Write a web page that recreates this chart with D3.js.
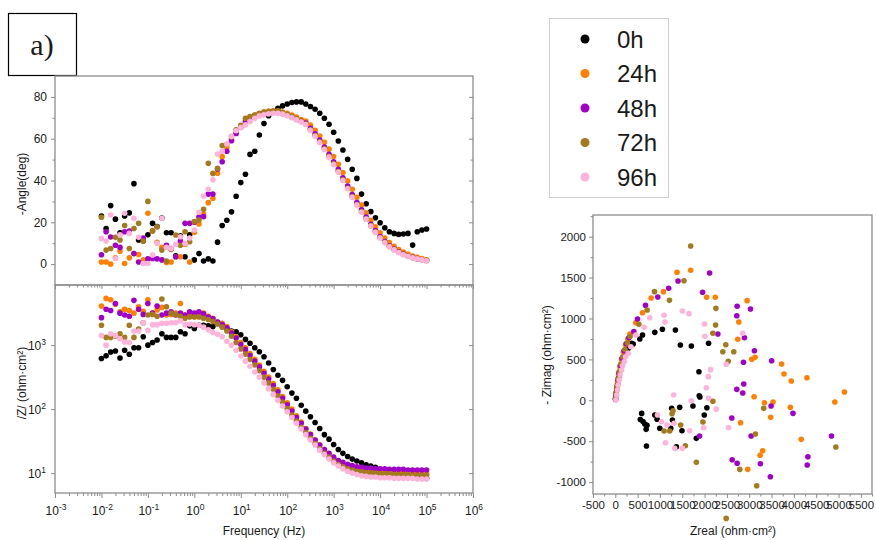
<!DOCTYPE html>
<html>
<head>
<meta charset="utf-8">
<script src="https://cdn.jsdelivr.net/npm/d3@7"></script>
<style>
  body { margin: 0; background: #fff; }
  svg { display: block; }
  text { font-family: Arial, "Liberation Sans", sans-serif; fill: #1a1a1a; }
</style>
</head>
<body>
<svg id="chart" width="876" height="540"></svg>
<script>
const seriesNames = ["0h", "24h", "48h", "72h", "96h"];
const seriesColors = ["#000000", "#ff7f00", "#a000c8", "#a47a1e", "#ffb3da"];

// frequency grid (Hz)
const freq = [
  0.01, 0.0126, 0.0158, 0.02, 0.0251, 0.0316, 0.0398, 0.0501, 0.0631, 0.0794,
  0.1, 0.126, 0.158, 0.2, 0.251, 0.316, 0.398, 0.501, 0.631, 0.794,
  1, 1.26, 1.58, 2, 2.51, 3.16, 3.98, 5.01, 6.31, 7.94,
  10, 12.6, 15.8, 20, 25.1, 31.6, 39.8, 50.1, 63.1, 79.4,
  100, 126, 158, 200, 251, 316, 398, 501, 631, 794,
  1000, 1260, 1580, 2000, 2510, 3160, 3980, 5010, 6310, 7940,
  10000, 12600, 15800, 20000, 25100, 31600, 39800, 50100, 63100, 79400,
  100000
];

// -phase angle (deg)
const phase0h = [
  23, 17, 28, 21.5, 15, 23, 24.5, 38.5, 11.5, 11,
  14, 19.5, 18, 22, 15, 15, 4, 13.5, 3.5, 14,
  2, 5, 1.5, 2.5, 1.5, 10.5, 18.5, 21, 25, 32.5,
  39, 43, 52.5, 54, 61.8, 67.3, 71, 73, 74.5, 75.7,
  76.6, 77.3, 77.6, 77.6, 76.6, 75.4, 74.1, 72.2, 69.8, 66.9,
  63.1, 58.9, 54.6, 50.1, 45.4, 41, 33.5, 28.9, 25.1, 22.2,
  19.8, 17.4, 15.5, 14.7, 14.2, 14.4, 14.7, 9.1, 15.5, 16.3,
  16.8
];
const phase24h = [
  1, 1, 0, 3, 6.2, 0.3, 3, 5, 4.6, 2,
  24.3, 16, 10.4, 8, 0.8, 1, 3.5, 3.5, 9.5, 1,
  15.2, 19.2, 24, 29.4, 31.5, 43.5, 51.4, 55.8, 59.7, 62.6,
  65.8, 68.5, 70.3, 71.3, 72.2, 72.8, 73.2, 73.3, 73.2, 72.8,
  72.2, 71.3, 70.3, 69.2, 68.5, 66.5, 64, 61.3, 58.3, 55,
  51.5, 47.8, 43.8, 39.8, 35.8, 32, 28.2, 24.5, 21, 17.8,
  15, 12.5, 10.3, 8.5, 7, 5.8, 4.8, 3.9, 3.2, 2.6,
  2.1
];
const phase48h = [
  4.5, 15.5, 13, 9, 8, 15.5, 15.8, 5, 1, 12.5,
  2.5, 2.7, 2.5, 2, 9, 7.5, 3.5, 11, 19.5, 19.5,
  20, 22.5, 22.7, 33.5, 33.5, 45.5, 49, 54, 59, 62.5,
  65.5, 68, 69.8, 71, 71.8, 72.4, 72.7, 72.8, 72.6, 72,
  71.2, 70.3, 69.3, 68.3, 67.5, 65, 62.3, 59.3, 56, 52.5,
  49, 45.3, 41.3, 37.3, 33.3, 29.5, 26, 22.5, 19, 16,
  13.2, 10.8, 8.8, 7.2, 5.9, 4.8, 3.9, 3.2, 2.6, 2.1,
  1.7
];
const phase72h = [
  22.4, 6.7, 7.5, 12.8, 11.5, 18.5, 7.5, 17, 19.5, 11,
  30, 15.8, 17.9, 6.7, 1.4, 7, 13.9, 9, 15.5, 10.7,
  20.3, 21.1, 26.2, 48.2, 43.4, 45.8, 56.7, 57.3, 61, 64.2,
  66.4, 69.8, 70.6, 71.3, 72, 72.7, 73, 73.2, 73.2, 72.5,
  71.7, 70.6, 69.5, 68.4, 67, 64.3, 61.5, 58.5, 55.2, 51.6,
  48, 44.3, 40.3, 36.3, 32.3, 28.5, 25, 21.6, 18.4, 15.4,
  12.7, 10.4, 8.5, 7, 5.7, 4.7, 3.8, 3.1, 2.5, 2.1,
  1.7
];
const phase96h = [
  12.3, 11, 23.5, 2.7, 14, 24.3, 14.7, 21.9, 12.8, 0.3,
  0.3, 4.3, 10, 21.9, 8, 7.5, 9.5, 13.1, 9.9, 12.5,
  16.3, 24.8, 32.6, 35.8, 40.3, 52.7, 54, 57.5, 61, 63.8,
  65.3, 66.6, 68.2, 69.8, 70.9, 71.4, 71.9, 72.2, 72.2, 71.8,
  71, 70, 69, 68, 66.8, 64, 61.2, 58.2, 54.8, 51.2,
  47.6, 44, 40, 36, 32, 28.3, 24.8, 21.5, 18.2, 15.2,
  12.5, 10.2, 8.3, 6.8, 5.5, 4.5, 3.7, 3, 2.5, 2,
  1.6
];

// |Z| (ohm·cm2)
const modZ0h = [
  620, 680, 780, 810, 630, 830, 720, 910, 910, 1350,
  1000, 1100, 1200, 1510, 1320, 1320, 1320, 1620, 1510, 2000,
  1820, 2040, 2040, 2000, 1950, 2190, 2000, 1820, 1660, 1620,
  1450, 1230, 1070, 910, 790, 660, 525, 417, 339, 282,
  224, 178, 148, 115, 93, 76, 62, 50, 40, 34,
  28, 23.4, 20.4, 18.2, 16.6, 15.5, 14.5, 13.5, 12.9, 12.3,
  11.5, 11.0, 10.5, 10.0, 9.5, 9.3, 9.1, 8.9, 8.7, 8.5,
  8.3
];
const modZ24h = [
  4070, 5370, 5130, 4370, 3310, 3630, 3470, 3160, 3980, 3390,
  5130, 3160, 3550, 3890, 2950, 3020, 3160, 4470, 2950, 3020,
  2950, 3160, 3160, 2820, 2630, 2290, 2190, 1950, 1620, 1350,
  1100, 910, 740, 600, 490, 389, 316, 251, 200, 158,
  126, 100, 79, 63, 50, 41, 33, 27.5, 22.9, 19.5,
  17.0, 15.1, 13.8, 12.9, 12.0, 11.5, 11.2, 11.0, 10.7, 10.7,
  10.5, 10.5, 10.2, 10.2, 10.2, 10.0, 10.0, 10.0, 10.0, 9.8,
  9.8
];
const modZ48h = [
  2690, 3630, 3470, 4470, 3160, 2950, 2820, 5010, 3630, 3020,
  4470, 3160, 4070, 2950, 3160, 3310, 2950, 3160, 2950, 3310,
  3160, 3310, 3090, 2750, 2570, 2290, 2090, 1860, 1550, 1290,
  1020, 850, 690, 562, 457, 363, 295, 234, 186, 148,
  117, 93, 74, 60, 49, 40, 33, 27.5, 23.4, 20.4,
  17.8, 15.8, 14.8, 13.8, 13.2, 12.6, 12.3, 12.0, 12.0, 11.7,
  11.7, 11.7, 11.5, 11.5, 11.5, 11.5, 11.2, 11.2, 11.2, 11.2,
  11.2
];
const modZ72h = [
  2040, 1320, 1320, 1380, 1510, 1320, 2040, 1320, 1780, 2240,
  2950, 3020, 2820, 5250, 3980, 3160, 3020, 2820, 2630, 2750,
  2750, 2750, 2630, 2510, 2340, 2140, 1910, 1660, 1380, 1100,
  870, 724, 600, 490, 398, 316, 257, 204, 162, 129,
  102, 81, 65, 52, 43, 35, 29, 24, 20.4, 17.8,
  15.5, 13.8, 12.6, 11.7, 11.2, 10.7, 10.5, 10.2, 10.0, 10.0,
  9.8, 9.8, 9.8, 9.5, 9.5, 9.5, 9.5, 9.3, 9.3, 9.3,
  9.3
];
const modZ96h = [
  1410, 1000, 1510, 1410, 1260, 1120, 1100, 1660, 1660, 2240,
  1700, 2090, 2090, 2190, 2200, 2240, 2250, 2400, 2090, 2140,
  2090, 2040, 1910, 1740, 1580, 1480, 1350, 1150, 1000, 830,
  676, 562, 468, 380, 316, 257, 209, 170, 138, 112,
  91, 74, 60, 49, 40, 33, 27.5, 22.9, 19.5, 16.6,
  14.5, 12.9, 11.7, 10.7, 10.0, 9.5, 9.1, 8.9, 8.7, 8.7,
  8.5, 8.5, 8.5, 8.3, 8.3, 8.3, 8.3, 8.3, 8.1, 8.1,
  8.1
];

// Nyquist points [Zreal, -Zimag] (ohm·cm2)
const nyq0h = [
  [5, 10], [15, 60], [30, 125], [52, 200], [80, 290], [120, 390], [170, 480], [230, 560],
  [300, 640], [363, 697], [400, 688], [549, 749], [609, 798], [884, 831], [1055, 868],
  [1346, 859], [1457, 676], [1703, 664], [2089, 697], [1873, 350], [1880, 56], [1895, 40],
  [2051, -90], [1993, -180], [1739, -70], [1442, -86], [1262, -98], [1279, -241], [935, -232],
  [884, -180], [590, -160], [560, -235], [620, -260], [660, -290], [710, -305], [690, -355],
  [996, -342], [1241, -342], [1493, -372], [1815, -465], [1368, -567], [698, -559]
];
const nyq24h = [
  [5, 20], [15, 80], [30, 150], [50, 230], [75, 320], [105, 410], [140, 500], [180, 590],
  [230, 680], [280, 750], [326, 811], [460, 949], [609, 1071], [802, 1251], [1078, 1328],
  [1382, 1565], [1688, 1589], [2045, 1259], [2239, 1259], [2952, 1218], [2766, 957],
  [2743, 746], [3056, 501], [3131, 526], [3725, 444], [3779, 322], [3942, 236], [4293, 276],
  [5132, 101], [4917, -21], [3109, 44], [3339, -29], [3533, -21], [3480, -208], [3920, -86],
  [2804, -274], [4165, -477], [2967, -844], [3243, -672], [3301, -616]
];
const nyq48h = [
  [5, 22], [16, 88], [33, 165], [56, 250], [82, 335], [112, 425], [152, 515], [197, 605],
  [245, 690], [305, 765], [415, 839], [497, 994], [676, 1161], [951, 1263], [1196, 1369],
  [1405, 1458], [2112, 1556], [1955, 1320], [2729, 1149], [3027, 1116], [2721, 1034],
  [2297, 811], [2893, 765], [3116, 606], [2871, 465], [3502, 484], [2877, 199], [2721, 134],
  [2855, 89], [3489, -70], [3980, -159], [2609, -216], [3042, -436], [4842, -436],
  [1888, -436], [2618, -726], [2729, -770], [3250, -775], [4314, -689], [4299, -791], [3473, -934]
];
const nyq72h = [
  [4, 15], [18, 92], [36, 172], [60, 262], [90, 352], [126, 442], [166, 532], [216, 622],
  [270, 700], [330, 780], [527, 929], [713, 1104], [877, 1328], [1212, 1222], [1538, 1462],
  [1688, 1886], [2253, 1124], [2246, 921], [2185, 819], [2475, 680], [2408, 594], [2654, 594],
  [2529, 477], [2185, -12], [1963, -265], [3324, -98], [3138, -412], [4940, -571], [2788, -844],
  [3167, -1044], [2484, -1443], [1293, -127], [1270, -165], [1092, -375], [1219, -375],
  [1464, -302], [1569, -555], [1815, -758]
];
const nyq96h = [
  [13, 4], [29, 65], [51, 126], [65, 187], [87, 248], [109, 310], [141, 370], [163, 423],
  [199, 472], [230, 533], [288, 574], [348, 655], [460, 798], [645, 892], [772, 1010],
  [1092, 1039], [1114, 957], [1502, 1092], [1650, 1059], [2000, 933], [2005, 782], [2855, 819],
  [2134, 375], [2083, 289], [2038, 154], [2089, 24], [1308, 65], [1703, -5], [944, -180],
  [1033, -262], [1158, -302], [1315, -281], [1123, -518], [1330, -587], [1502, -587],
  [1665, -372], [1978, -335], [2260, -108], [2536, -335], [2484, 440]
];

// tick labels
const freqTicks = [1e-3, 1e-2, 1e-1, 1e0, 1e1, 1e2, 1e3, 1e4, 1e5, 1e6];
const freqExp = ["-3", "-2", "-1", "0", "1", "2", "3", "4", "5", "6"];
const zTicks = [10, 100, 1000];
const zExp = ["1", "2", "3"];
const phaseTicks = [0, 20, 40, 60, 80];
const phaseMinor = [10, 30, 50, 70];
const nyqXTicks = [-500, 0, 500, 1000, 1500, 2000, 2500, 3000, 3500, 4000, 4500, 5000, 5500];
const nyqYTicks = [-1000, -500, 0, 500, 1000, 1500, 2000];

const series = seriesNames.map((name, k) => ({
  name,
  color: seriesColors[k],
  phase: [phase0h, phase24h, phase48h, phase72h, phase96h][k],
  z: [modZ0h, modZ24h, modZ48h, modZ72h, modZ96h][k],
  nyq: [nyq0h, nyq24h, nyq48h, nyq72h, nyq96h][k]
}));

const svg = d3.select("#chart");
const frameColor = "#8c8c8c";
const R = 2.8;

// scales
const fx = d3.scaleLog().domain([1e-3, 1e6]).range([55, 473]);
const yPhase = d3.scaleLinear().domain([-10, 90]).range([285, 76]);
const yZ = d3.scaleLog().domain([4.9, 8700]).range([493, 285]);
const nx = d3.scaleLinear().domain([-500, 5750]).range([593, 872]);
const ny = d3.scaleLinear().domain([-1145, 2265]).range([494, 215]);

// minor ticks for the log frequency axis
const freqMinor = [];
for (let e = -3; e < 6; e++) {
  for (let m = 2; m <= 9; m++) freqMinor.push(m * Math.pow(10, e));
}

function styleAxis(g) {
  g.select(".domain").remove();
  g.selectAll(".tick line").attr("stroke", frameColor);
  g.selectAll(".tick text").attr("fill", "#1a1a1a");
}

function tickAxis(axis, size, values, x, y, fmt, fontSize) {
  const g = svg.append("g")
    .attr("transform", `translate(${x},${y})`)
    .call(axis.tickValues(values).tickSize(size).tickSizeOuter(0).tickFormat(fmt || ""))
    .call(styleAxis);
  if (fontSize) {
    g.selectAll(".tick text")
      .style("font-size", fontSize)
      .style("font-family", "Arial, 'Liberation Sans', sans-serif");
  }
  return g;
}

// "a)" panel tag
svg.append("rect").attr("x", 8.5).attr("y", 13.5).attr("width", 68).attr("height", 62)
  .attr("fill", "none").attr("stroke", "#000").attr("stroke-width", 1.2);
svg.append("text").attr("x", 42).attr("y", 55).attr("text-anchor", "middle")
  .style("font-family", "'Liberation Serif', 'Times New Roman', serif")
  .style("font-size", "30px").text("a)");

// ---------- Bode: phase panel ----------
tickAxis(d3.axisLeft(yPhase), 4, phaseTicks, 55, 0, d => d, "12px")
  .selectAll(".tick text").attr("x", -8);
tickAxis(d3.axisLeft(yPhase), 2.5, phaseMinor, 55, 0);
tickAxis(d3.axisLeft(yPhase), 4, phaseTicks, 473, 0);
tickAxis(d3.axisLeft(yPhase), 2.5, phaseMinor, 473, 0);
tickAxis(d3.axisBottom(fx), 4, freqTicks, 0, 285);
tickAxis(d3.axisBottom(fx), 2.5, freqMinor, 0, 285);

// ---------- Bode: |Z| panel ----------
tickAxis(d3.axisBottom(fx), 5, freqTicks, 0, 493);
tickAxis(d3.axisBottom(fx), 3, freqMinor, 0, 493);
tickAxis(d3.axisLeft(yZ), 4, zTicks, 55, 0);
tickAxis(d3.axisLeft(yZ), 4, zTicks, 473, 0);

// frames
svg.append("rect").attr("x", 55).attr("y", 76).attr("width", 418).attr("height", 209)
  .attr("fill", "none").attr("stroke", frameColor).attr("stroke-width", 1.3);
svg.append("rect").attr("x", 55).attr("y", 285).attr("width", 418).attr("height", 208)
  .attr("fill", "none").attr("stroke", frameColor).attr("stroke-width", 1.3);

// superscripted log labels
const fLab = svg.append("g").selectAll("text").data(freqTicks).join("text")
  .attr("x", d => fx(d) + 1).attr("y", 515).attr("text-anchor", "middle")
  .style("font-size", "12px");
fLab.append("tspan").text("10");
fLab.append("tspan").attr("dy", -5).style("font-size", "8.5px").text((d, i) => freqExp[i]);

const zLab = svg.append("g").selectAll("text").data(zTicks).join("text")
  .attr("x", 46).attr("y", d => yZ(d) + 5).attr("text-anchor", "end")
  .style("font-size", "12px");
zLab.append("tspan").text("10");
zLab.append("tspan").attr("dy", -5).style("font-size", "8.5px").text((d, i) => zExp[i]);

// axis titles
svg.append("text").attr("transform", "translate(26,184) rotate(-90)")
  .attr("text-anchor", "middle").style("font-size", "12px").text("-Angle(deg)");
svg.append("text").attr("transform", "translate(26,383) rotate(-90)")
  .attr("text-anchor", "middle").style("font-size", "12px").text("/Z/ (ohm·cm²)");
svg.append("text").attr("x", 264).attr("y", 535).attr("text-anchor", "middle")
  .style("font-size", "12px").text("Frequency (Hz)");

// points
series.forEach(s => {
  svg.append("g").selectAll("circle")
    .data(freq.map((f, i) => [f, s.phase[i]]))
    .join("circle")
    .attr("cx", d => fx(d[0])).attr("cy", d => yPhase(d[1]))
    .attr("r", R).attr("fill", s.color);
  svg.append("g").selectAll("circle")
    .data(freq.map((f, i) => [f, s.z[i]]))
    .join("circle")
    .attr("cx", d => fx(d[0])).attr("cy", d => yZ(d[1]))
    .attr("r", R).attr("fill", s.color);
});

// ---------- Nyquist ----------
const nyqXMinor = nyqXTicks.map(v => v + 250);
const nyqYMinor = [-750, -250, 250, 750, 1250, 1750, 2250];
tickAxis(d3.axisLeft(ny), 4, nyqYTicks, 593, 0, d => d, "11.5px");
tickAxis(d3.axisLeft(ny), 2.5, nyqYMinor, 593, 0);
tickAxis(d3.axisBottom(nx), 4, nyqXTicks, 0, 494, d => d, "11.5px");
tickAxis(d3.axisBottom(nx), 2.5, nyqXMinor, 0, 494);

svg.append("rect").attr("x", 593).attr("y", 215).attr("width", 279).attr("height", 279)
  .attr("fill", "none").attr("stroke", frameColor).attr("stroke-width", 1.3);

svg.append("text").attr("transform", "translate(551,355) rotate(-90)")
  .attr("text-anchor", "middle").style("font-size", "12px").text("- Zimag (ohm·cm²)");
svg.append("text").attr("x", 733).attr("y", 535).attr("text-anchor", "middle")
  .style("font-size", "12px").text("Zreal (ohm·cm²)");

series.forEach(s => {
  svg.append("g").selectAll("circle")
    .data(s.nyq)
    .join("circle")
    .attr("cx", d => nx(d[0])).attr("cy", d => ny(d[1]))
    .attr("r", R).attr("fill", s.color);
});

// ---------- legend ----------
const legend = svg.append("g");
legend.append("rect").attr("x", 549.5).attr("y", 18.5).attr("width", 119).attr("height", 179)
  .attr("fill", "#fff").attr("stroke", "#d0d0d0");
const item = legend.selectAll("g.item").data(series).join("g")
  .attr("class", "item")
  .attr("transform", (d, i) => `translate(585,${39 + i * 34.5})`);
item.append("circle").attr("r", 4.5).attr("fill", d => d.color);
item.append("text").attr("x", 32).attr("y", 8.5).style("font-size", "24px").text(d => d.name);
</script>
</body>
</html>
